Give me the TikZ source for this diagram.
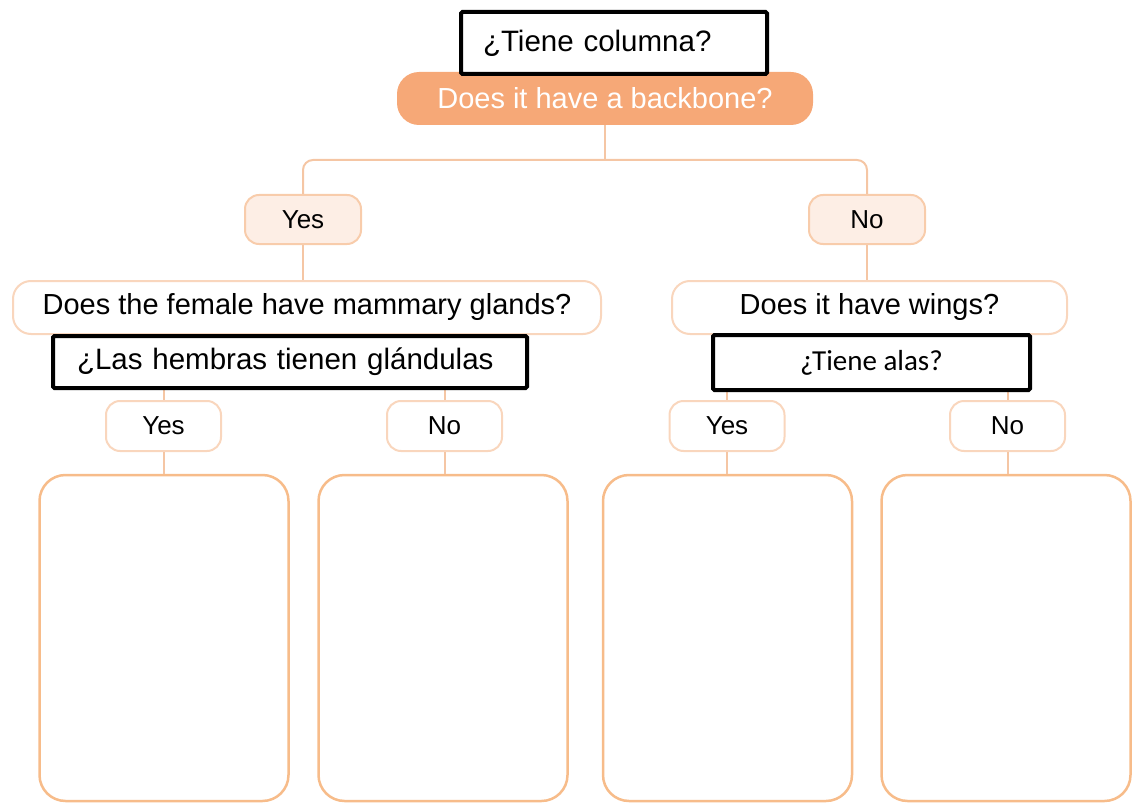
\documentclass[tikz,border=0pt]{standalone}
\usepackage{fontspec}
\setmainfont{Liberation Sans}
\newfontfamily\calib{Carlito}
\definecolor{bbfill}{HTML}{F6A877}
\definecolor{peach}{HTML}{FDEEE5}
\definecolor{peachline}{HTML}{F8CCAB}
\definecolor{lightline}{HTML}{F9D6BD}
\definecolor{boxline}{HTML}{F7BC8A}
\definecolor{connc}{HTML}{F5C6A4}
\begin{document}
\begin{tikzpicture}[x=1pt,y=-1pt,
  eng/.style={font=\fontsize{29}{32}\selectfont},
  yn/.style={font=\fontsize{26}{30}\selectfont},
  ansbox/.style={draw=peachline,line width=2pt,fill=peach,rounded corners=14pt,minimum width=116pt,minimum height=49pt,inner sep=0pt,yn},
  ansboxw/.style={draw=lightline,line width=2pt,fill=white,rounded corners=14pt,minimum width=115pt,minimum height=50pt,inner sep=0pt,yn},
  qbox/.style={draw=lightline,line width=2pt,fill=white,rounded corners=18pt,minimum height=53pt,inner sep=0pt,eng},
  bigbox/.style={draw=boxline,line width=2.5pt,fill=white,rounded corners=26pt,minimum width=249pt,minimum height=326pt,inner sep=0pt},
  blackbox/.style={draw=black,line width=4pt,fill=white,rounded corners=1.5pt,inner ysep=0pt,font=\fontsize{29.5}{33}\selectfont},
  conn/.style={draw=connc,line width=2pt}
]
\useasboundingbox (0,0) rectangle (1132,805);

% main question
\node[fill=bbfill,rounded corners=22pt,minimum width=416pt,minimum height=53pt,inner sep=0pt,text=white,eng] (bb) at (605,98.5) {Does it have a backbone?};

% level 1 answers
\node[ansbox] (yes1) at (303,219.5) {Yes};
\node[ansbox] (no1) at (867,219.5) {No};

% level 1 questions
\node[qbox,minimum width=588pt] (mam) at (307,307.5) {Does the female have mammary glands?};
\node[qbox,minimum width=395pt] (wings) at (869.5,307.5) {Does it have wings?};

% level 2 answers
\node[ansboxw] (yes2a) at (163.5,426) {Yes};
\node[ansboxw] (no2a) at (444.5,426) {No};
\node[ansboxw] (yes2b) at (727,426) {Yes};
\node[ansboxw] (no2b) at (1007.5,426) {No};

% answer boxes
\node[bigbox] (b1) at (164,638) {};
\node[bigbox] (b2) at (443,638) {};
\node[bigbox] (b3) at (727.5,638) {};
\node[bigbox] (b4) at (1006,638) {};

% connectors
\coordinate (h1) at (605,160);
\draw[conn] (bb.south) -- (h1);
\draw[conn,rounded corners=10pt] (yes1.north) |- (h1) -| (no1.north);
\draw[conn] (yes1.south) -- (yes1.south |- mam.north);
\draw[conn] (no1.south) -- (no1.south |- wings.north);
\draw[conn] (yes2a.north |- mam.south) -- (yes2a.north);
\draw[conn] (no2a.north |- mam.south) -- (no2a.north);
\draw[conn] (yes2b.north |- wings.south) -- (yes2b.north);
\draw[conn] (no2b.north |- wings.south) -- (no2b.north);
\draw[conn] (yes2a.south) -- (yes2a.south |- b1.north);
\draw[conn] (no2a.south) -- (no2a.south |- b2.north);
\draw[conn] (yes2b.south) -- (yes2b.south |- b3.north);
\draw[conn] (no2b.south) -- (no2b.south |- b4.north);

% Spanish overlay boxes
\node[blackbox,minimum width=306pt,minimum height=62pt,text width=262pt,inner xsep=22pt,align=left] (es1) at (614,43) {¿Tiene columna?};
\node[blackbox,minimum width=474pt,minimum height=52pt,text width=426pt,inner xsep=24pt,align=left] (es2) at (290,362) {¿Las hembras tienen glándulas};
\node[blackbox,minimum width=317pt,minimum height=55pt,font=\calib\fontsize{29}{33}\selectfont] (es3) at (871.5,362.5) {¿Tiene alas?};
\end{tikzpicture}
\end{document}
